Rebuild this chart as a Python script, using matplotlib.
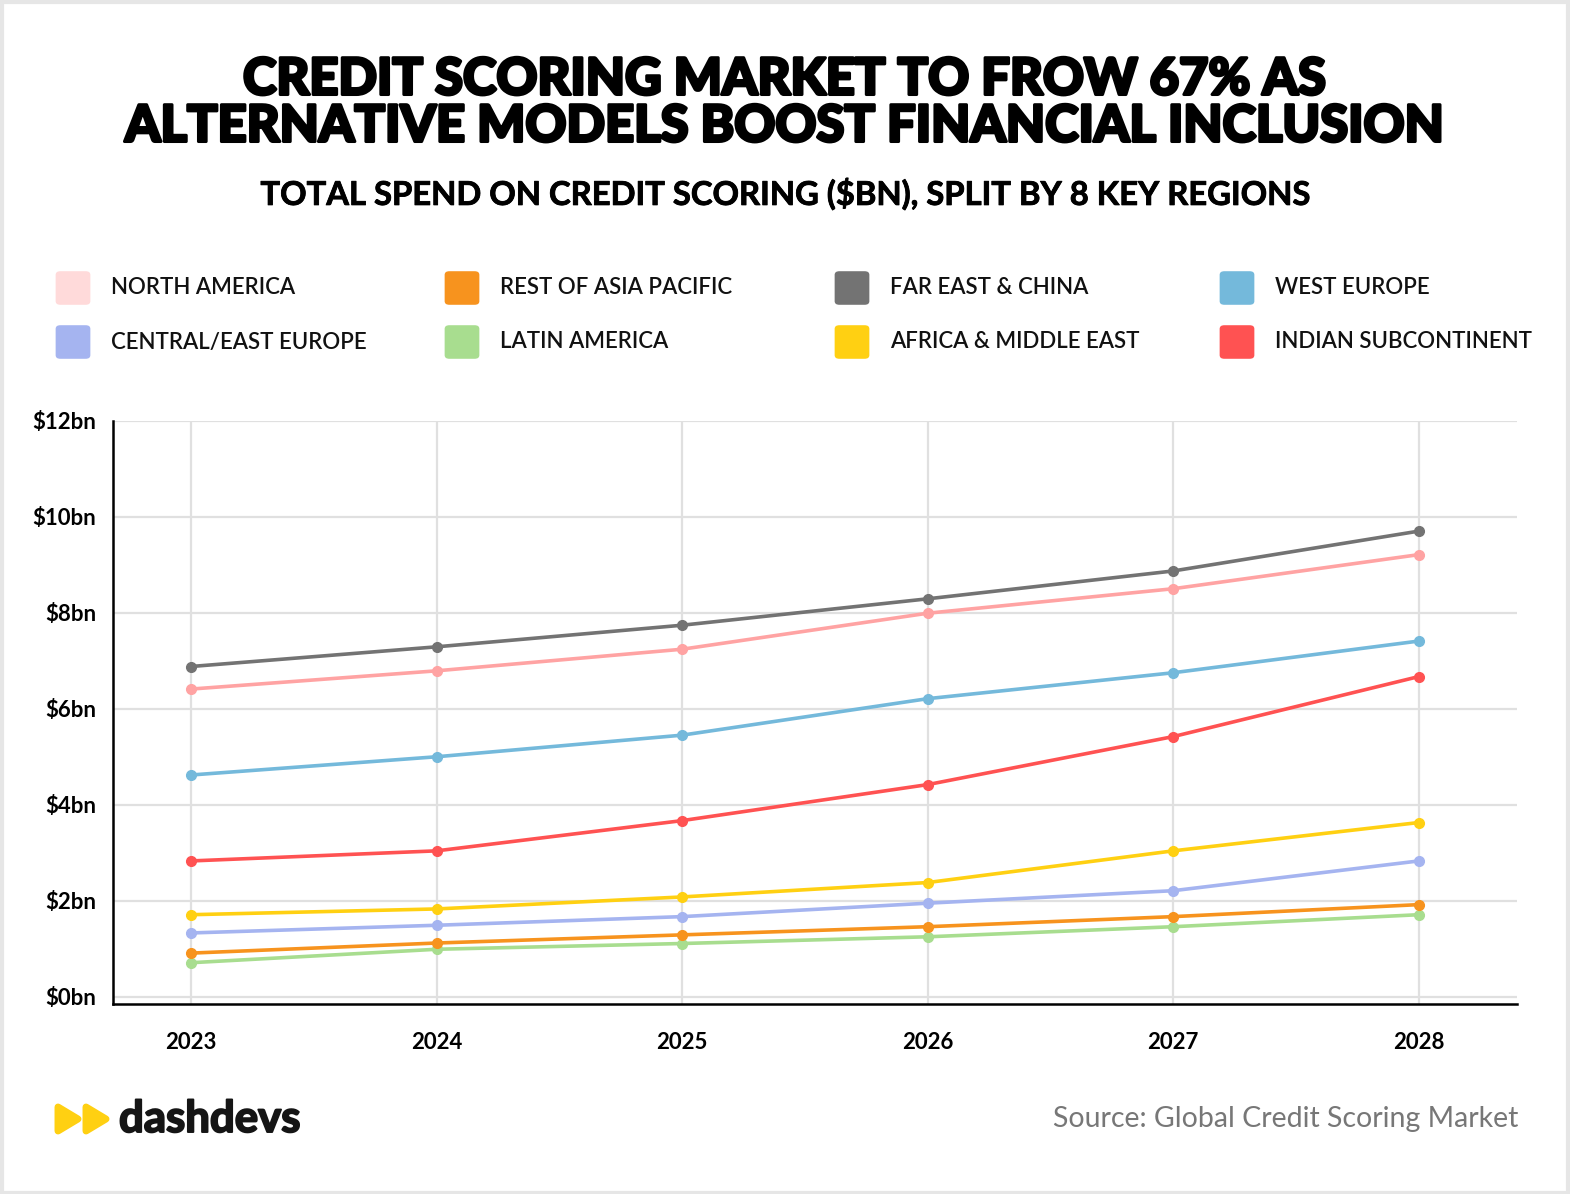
import matplotlib
matplotlib.use("Agg")
import matplotlib.pyplot as plt
import matplotlib.patheffects as pe
from matplotlib.patches import FancyBboxPatch, Rectangle, Polygon
from matplotlib.ticker import FuncFormatter

# Data (values in $bn)
years = [2023, 2024, 2025, 2026, 2027, 2028]
regions = ["NORTH AMERICA", "REST OF ASIA PACIFIC", "FAR EAST & CHINA", "WEST EUROPE",
           "CENTRAL/EAST EUROPE", "LATIN AMERICA", "AFRICA & MIDDLE EAST", "INDIAN SUBCONTINENT"]
north_america = [6.41, 6.79, 7.24, 7.99, 8.50, 9.21]
rest_of_asia_pacific = [0.91, 1.12, 1.29, 1.46, 1.67, 1.92]
far_east_china = [6.88, 7.29, 7.74, 8.29, 8.87, 9.70]
west_europe = [4.62, 5.00, 5.45, 6.21, 6.75, 7.41]
central_east_europe = [1.33, 1.49, 1.67, 1.95, 2.21, 2.83]
latin_america = [0.71, 0.99, 1.11, 1.25, 1.46, 1.71]
africa_middle_east = [1.71, 1.83, 2.08, 2.38, 3.04, 3.63]
indian_subcontinent = [2.83, 3.04, 3.67, 4.42, 5.42, 6.67]
yticks = [0, 2, 4, 6, 8, 10, 12]

series = [north_america, rest_of_asia_pacific, far_east_china, west_europe,
          central_east_europe, latin_america, africa_middle_east, indian_subcontinent]
line_colors = ["#FFA3A3", "#F7931E", "#737373", "#74B9DB",
               "#A5B4F0", "#A8DD8F", "#FFD012", "#FF5252"]
swatch_colors = ["#FFDADA", "#F7931E", "#737373", "#74B9DB",
                 "#A5B4F0", "#A8DD8F", "#FFD012", "#FF5252"]

plt.rcParams["font.family"] = ["Lato", "DejaVu Sans"]

W, H = 1570, 1194
fig = plt.figure(figsize=(W / 100, H / 100), dpi=100)
fig.patch.set_facecolor("white")

# thin outer border
fig.patches.append(Rectangle((0.001, 0.001), 0.998, 0.997, transform=fig.transFigure,
                             fill=False, edgecolor="#E6E6E6", linewidth=3))

# Titles (stroke to fake a heavier weight)
heavy = [pe.withStroke(linewidth=2.2, foreground="black")]
fig.text(0.5, 1 - 80 / H, "CREDIT SCORING MARKET TO FROW 67% AS", ha="center", va="center",
         fontsize=36.5, fontweight="black", color="black", path_effects=heavy)
fig.text(0.5, 1 - 127 / H, "ALTERNATIVE MODELS BOOST FINANCIAL INCLUSION", ha="center", va="center",
         fontsize=36.5, fontweight="black", color="black", path_effects=heavy)
fig.text(0.5, 1 - 194 / H, "TOTAL SPEND ON CREDIT SCORING ($BN), SPLIT BY 8 KEY REGIONS",
         ha="center", va="center", fontsize=23.6, fontweight="bold", color="black",
         path_effects=[pe.withStroke(linewidth=0.6, foreground="black")])

# Legend (manual, 4 columns x 2 rows)
col_x = [56, 445, 835, 1220]
row_y = [288, 342]
for i, name in enumerate(regions):
    r, c = divmod(i, 4)
    x0 = col_x[c]
    yc = row_y[r]
    fig.patches.append(FancyBboxPatch(((x0 + 2) / W, 1 - (yc + 15) / H), 30 / W, 30 / H,
                                      boxstyle="round,pad=0.0015,rounding_size=0.003",
                                      transform=fig.transFigure, facecolor=swatch_colors[i],
                                      edgecolor="none"))
    fig.text((x0 + 55) / W, 1 - yc / H, name, ha="left", va="center", fontsize=16,
             fontweight="semibold", color="#111111")

# Chart
ax = fig.add_axes([113 / W, 1 - 1004 / H, (1517 - 113) / W, (1004 - 420.7) / H])
n = len(series)
for i, (vals, col) in enumerate(zip(series, line_colors)):
    ax.plot(years, vals, color=col, linewidth=2.6, marker="o", markersize=7,
            zorder=10 + n - i, solid_capstyle="round")

ax.set_xlim(2023 - 0.318, 2028 + 0.4)
ax.set_ylim(-0.15, 12)
ax.set_xticks(years)
ax.set_yticks(yticks)
ax.yaxis.set_major_formatter(FuncFormatter(lambda v, p: f"${v:.0f}bn"))
ax.grid(True, color="#E0E0E0", linewidth=1.6)
ax.set_axisbelow(True)
for s in ["top", "right"]:
    ax.spines[s].set_visible(False)
for s in ["left", "bottom"]:
    ax.spines[s].set_color("black")
    ax.spines[s].set_linewidth(1.8)
ax.tick_params(length=0, colors="black", labelsize=16)
ax.tick_params(axis="y", pad=12)
ax.tick_params(axis="x", pad=20)
for lab in ax.get_xticklabels() + ax.get_yticklabels():
    lab.set_fontweight("bold")

# Footer: logo
tri_color = "#FFD012"
for x0 in [58, 86]:
    pts = [((x0) / W, 1 - 1107 / H), ((x0) / W, 1 - 1131 / H), ((x0 + 20) / W, 1 - 1119 / H)]
    fig.patches.append(Polygon(pts, closed=True, transform=fig.transFigure,
                               facecolor=tri_color, edgecolor=tri_color, linewidth=5,
                               joinstyle="round"))
fig.text(119 / W, 1 - 1119 / H, "dashdevs", ha="left", va="center", fontsize=31.5,
         fontweight="bold", color="#151515",
         path_effects=[pe.withStroke(linewidth=1.4, foreground="#151515")])
fig.text(1518 / W, 1 - 1119 / H, "Source: Global Credit Scoring Market", ha="right", va="center",
         fontsize=20.5, color="#777777")

fig.savefig("out.png", dpi=100, facecolor="white")
